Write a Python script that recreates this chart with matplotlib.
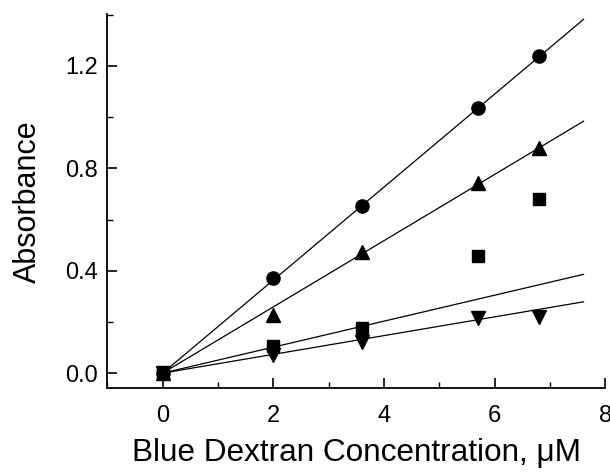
import numpy as np
import matplotlib
matplotlib.use("Agg")
import matplotlib.pyplot as plt
from matplotlib.ticker import MultipleLocator

plt.rcParams["font.family"] = ["Liberation Sans", "DejaVu Sans"]

# concentration of blue dextran (uM)
conc = [0, 2.0, 3.6, 5.7, 6.8]

# absorbance series
circles = [0, 0.372, 0.653, 1.035, 1.237]
tri_up = [0, 0.228, 0.473, 0.743, 0.880]
squares = [0, 0.104, 0.178, 0.459, 0.679]
tri_down = [0, 0.071, 0.123, 0.215, 0.221]

# slopes of the fitted lines through the origin
slopes = [0.1816, 0.1293, 0.0507, 0.0366]
fit_x = [0, 7.61]

fig = plt.figure(figsize=(6.10, 4.74), dpi=100)
ax = fig.add_axes([0.176, 0.181, 0.816, 0.789])

for s in slopes:
    ax.plot(fit_x, [s * x for x in fit_x], color="black", lw=0.9, zorder=2)

ms = 9.5
ax.plot(conc, circles, "o", color="black", ms=ms, ls="none", zorder=3)
ax.plot(conc, tri_up, "^", color="black", ms=ms + 1, ls="none", zorder=3)
ax.plot(conc, squares, "s", color="black", ms=ms - 1, ls="none", zorder=3)
ax.plot(conc, tri_down, "v", color="black", ms=ms + 1, ls="none", zorder=3)

ax.set_xlim(-1, 8)
ax.set_ylim(-0.059, 1.402)
ax.xaxis.set_major_locator(MultipleLocator(2))
ax.xaxis.set_minor_locator(MultipleLocator(1))
ax.yaxis.set_major_locator(MultipleLocator(0.4))
ax.yaxis.set_minor_locator(MultipleLocator(0.2))
ax.yaxis.set_major_formatter(matplotlib.ticker.FormatStrFormatter("%.1f"))

for side in ["top", "right"]:
    ax.spines[side].set_visible(False)
for side in ["left", "bottom"]:
    ax.spines[side].set_linewidth(1.3)

ax.tick_params(which="major", direction="in", length=7, width=1.2, labelsize=17)
ax.tick_params(axis="x", which="major", pad=12)
ax.tick_params(axis="y", which="major", pad=7)
ax.tick_params(which="minor", direction="in", length=4, width=1.0)

ax.set_xlabel("Blue Dextran Concentration, μM", fontsize=22.7, labelpad=8)
ax.set_ylabel("Absorbance", fontsize=22, labelpad=16)

fig.savefig("out.png", dpi=100)
